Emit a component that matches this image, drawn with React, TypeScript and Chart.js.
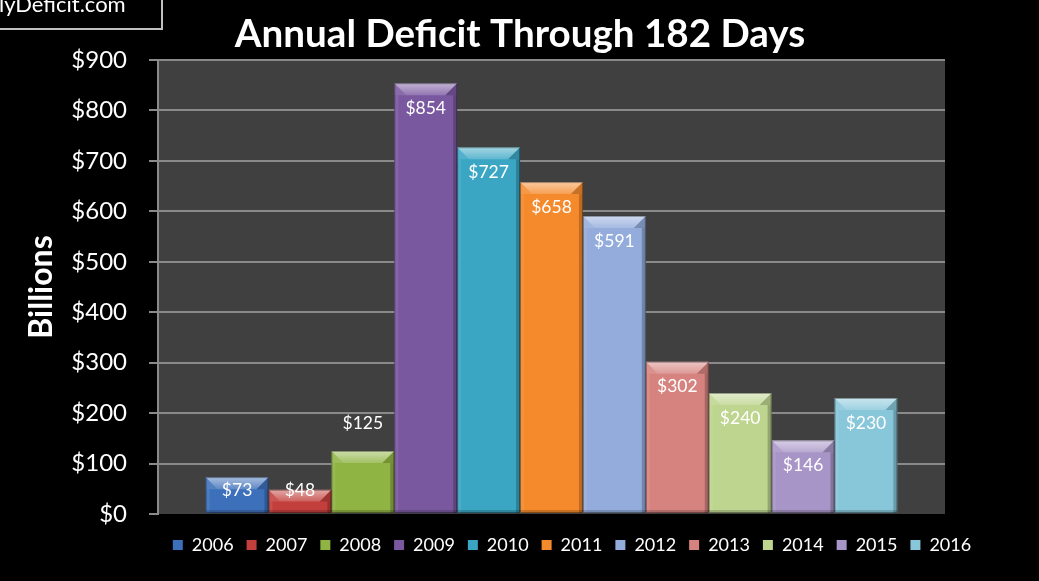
import React, { useEffect, useRef } from "react";
import { Chart, registerables } from "chart.js";

Chart.register(...registerables);

const years = ["2006", "2007", "2008", "2009", "2010", "2011", "2012", "2013", "2014", "2015", "2016"];
const deficits = [73, 48, 125, 854, 727, 658, 591, 302, 240, 146, 230];
const barColors = [
  "#3d70ba", "#c23f3c", "#8fb443", "#7a58a0", "#3aa6c4", "#f58a2c",
  "#93acdb", "#d6837f", "#bed58f", "#a895c7", "#88c7da",
];
const labelOutside = [false, false, true, false, false, false, false, false, false, false, false];
const yTickValues = [0, 100, 200, 300, 400, 500, 600, 700, 800, 900];
const chartTitle = "Annual Deficit Through 182 Days";
const yAxisTitle = "Billions";
const siteText = "lyDeficit.com";

const FONT = "Lato, 'Open Sans', sans-serif";
const GRID = "#8a8a8a";

const plotBgPlugin = {
  id: "plotBg",
  beforeDraw(chart: any) {
    const { ctx, chartArea } = chart;
    ctx.save();
    ctx.fillStyle = "#404040";
    ctx.fillRect(chartArea.left, chartArea.top, chartArea.right - chartArea.left, chartArea.bottom - chartArea.top);
    ctx.restore();
  },
};

const bevelPlugin = {
  id: "bevel",
  afterDatasetsDraw(chart: any) {
    const ctx = chart.ctx;
    chart.data.datasets.forEach((_ds: any, i: number) => {
      const meta = chart.getDatasetMeta(i);
      if (meta.hidden) return;
      meta.data.forEach((bar: any) => {
        const { x, y, base, width } = bar.getProps(["x", "y", "base", "width"], true);
        const l = x - width / 2;
        const r = x + width / 2;
        const t = Math.min(y, base);
        const b = Math.max(y, base);
        const h = b - t;
        const bv = Math.min(12, h / 2, width / 2);
        const side = Math.min(4, width / 4);
        ctx.save();
        // left side strip
        ctx.fillStyle = "rgba(255,255,255,0.08)";
        ctx.fillRect(l, t + bv, side, h - bv);
        // right side strip
        ctx.fillStyle = "rgba(0,0,0,0.22)";
        ctx.fillRect(r - side, t + bv, side, h - bv);
        // bottom strip
        ctx.fillStyle = "rgba(0,0,0,0.18)";
        ctx.fillRect(l, b - 3, width, 3);
        // top bevel
        const g = ctx.createLinearGradient(0, t, 0, t + bv);
        g.addColorStop(0, "rgba(255,255,255,0.55)");
        g.addColorStop(1, "rgba(255,255,255,0.18)");
        ctx.fillStyle = g;
        ctx.beginPath();
        ctx.moveTo(l, t);
        ctx.lineTo(r, t);
        ctx.lineTo(r - bv, t + bv);
        ctx.lineTo(l + bv, t + bv);
        ctx.closePath();
        ctx.fill();
        // corner diagonals (bevel sides)
        ctx.fillStyle = "rgba(255,255,255,0.12)";
        ctx.beginPath();
        ctx.moveTo(l, t);
        ctx.lineTo(l + bv, t + bv);
        ctx.lineTo(l + side, t + bv);
        ctx.lineTo(l, t + bv);
        ctx.closePath();
        ctx.fill();
        ctx.fillStyle = "rgba(0,0,0,0.18)";
        ctx.beginPath();
        ctx.moveTo(r, t);
        ctx.lineTo(r - bv, t + bv);
        ctx.lineTo(r - side, t + bv);
        ctx.lineTo(r, t + bv);
        ctx.closePath();
        ctx.fill();
        // outline
        ctx.strokeStyle = "rgba(0,0,0,0.35)";
        ctx.lineWidth = 1;
        ctx.strokeRect(l + 0.5, t + 0.5, width - 1, h - 1);
        ctx.restore();
      });
    });
  },
};

const valueLabelPlugin = {
  id: "valueLabels",
  afterDatasetsDraw(chart: any) {
    const ctx = chart.ctx;
    ctx.save();
    ctx.fillStyle = "#ffffff";
    ctx.font = `17.5px ${FONT}`;
    ctx.textAlign = "center";
    ctx.textBaseline = "middle";
    chart.data.datasets.forEach((ds: any, i: number) => {
      const meta = chart.getDatasetMeta(i);
      if (meta.hidden) return;
      meta.data.forEach((bar: any, j: number) => {
        const { x, y, base } = bar.getProps(["x", "y", "base"], true);
        const v = ds.data[j];
        const ly = labelOutside[i] ? y - 28 : Math.min(y + 25, base - 23);
        ctx.fillText("$" + v, x, ly);
      });
    });
    ctx.restore();
  },
};

const blockPlacePlugin = {
  id: "blockPlace",
  afterLayout(chart: any) {
    const lg = chart.legend;
    if (lg) {
      const dx = 572 - (lg.left + lg.right) / 2;
      lg.left += dx;
      lg.right += dx;
      lg.top += 9;
      lg.bottom += 9;
    }
    const tb = chart.titleBlock;
    if (tb) {
      const dx = 520 - (tb.left + tb.right) / 2;
      tb.left += dx;
      tb.right += dx;
    }
  },
};

export default function App() {
  const canvasRef = useRef<HTMLCanvasElement | null>(null);

  useEffect(() => {
    document.body.style.margin = "0";
    document.body.style.background = "#000";
    const canvas = canvasRef.current;
    if (!canvas) return;
    const chart = new Chart(canvas, {
      type: "bar",
      data: {
        labels: [""],
        datasets: years.map((yr, i) => ({
          label: yr,
          data: [deficits[i]],
          backgroundColor: barColors[i],
          borderWidth: 0,
          categoryPercentage: 0.879,
          barPercentage: 1,
        })),
      },
      options: {
        animation: false,
        responsive: true,
        maintainAspectRatio: false,
        layout: { padding: { top: 2, right: 94, bottom: 26, left: 0 } },
        plugins: {
          title: {
            display: true,
            text: chartTitle,
            color: "#ffffff",
            font: { family: FONT, size: 38.6, weight: "bold" },
            padding: { top: 9, bottom: 2.7 },
          },
          legend: {
            position: "bottom",
            labels: {
              color: "#ffffff",
              font: { family: FONT, size: 18 },
              boxWidth: 10,
              boxHeight: 10,
              padding: 13,
            },
          },
          tooltip: { enabled: false },
        },
        scales: {
          x: {
            display: false,
          },
          y: {
            min: 0,
            max: 900,
            afterBuildTicks: (s: any) => {
              s.ticks = yTickValues.map((v) => ({ value: v }));
            },
            afterFit: (s: any) => {
              s.width = 158;
            },
            ticks: {
              color: "#ffffff",
              font: { family: FONT, size: 24 },
              padding: 22,
              callback: (v: any) => "$" + v,
            },
            grid: {
              color: (c: any) => (c.tick && c.tick.value === 0 ? "rgba(0,0,0,0)" : GRID),
              tickColor: GRID,
              tickLength: 9,
              lineWidth: 2,
            },
            border: { color: GRID, width: 2 },
            title: {
              display: true,
              text: yAxisTitle,
              color: "#ffffff",
              font: { family: FONT, size: 32, weight: "bold" },
              padding: { top: 22, bottom: 0 },
            },
          },
        },
      },
      plugins: [plotBgPlugin, bevelPlugin, valueLabelPlugin, blockPlacePlugin],
    });
    return () => chart.destroy();
  }, []);

  return (
    <div style={{ position: "relative", width: 1039, height: 581, background: "#000", overflow: "hidden" }}>
      <div
        style={{
          position: "absolute",
          left: -20,
          top: -18,
          width: 183,
          height: 48,
          border: "2px solid #bfbfbf",
          boxSizing: "border-box",
          color: "#fff",
          fontFamily: FONT,
          fontSize: 22,
          lineHeight: "22px",
          paddingLeft: 17,
          paddingTop: 9,
          whiteSpace: "nowrap",
          zIndex: 2,
        }}
      >
        {siteText}
      </div>
      <canvas ref={canvasRef} style={{ position: "absolute", left: 0, top: 0, width: 1039, height: 581 }} />
    </div>
  );
}
